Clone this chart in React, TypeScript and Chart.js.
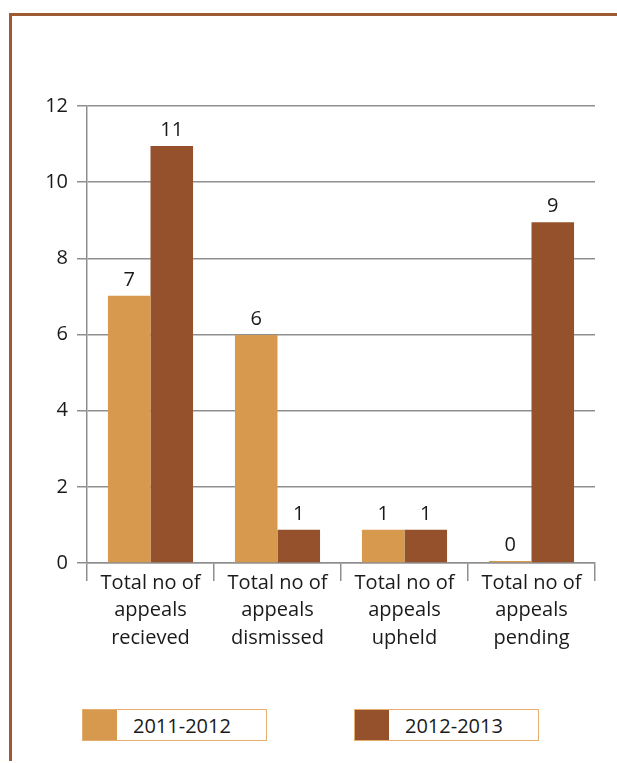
import React, { useEffect, useRef } from 'react';
import { Chart, registerables } from 'chart.js';

Chart.register(...registerables);

const categories: string[][] = [
  ['Total no of', 'appeals', 'recieved'],
  ['Total no of', 'appeals', 'dismissed'],
  ['Total no of', 'appeals', 'upheld'],
  ['Total no of', 'appeals', 'pending'],
];
const seriesNames = ['2011-2012', '2012-2013'];
const seriesColors = ['#D6994D', '#94512B'];
const values2011 = [7.02, 5.99, 0.87, 0.05];
const values2012 = [10.95, 0.87, 0.87, 8.95];
const labels2011 = ['7', '6', '1', '0'];
const labels2012 = ['11', '1', '1', '9'];
const yMin = 0;
const yMax = 12;
const yStep = 2;

const FONT = "'Open Sans', 'DejaVu Sans', sans-serif";

const valueLabelPlugin = {
  id: 'valueLabels',
  afterDatasetsDraw(chart: any) {
    const ctx = chart.ctx;
    const allLabels = [labels2011, labels2012];
    ctx.save();
    ctx.font = `20px ${FONT}`;
    ctx.fillStyle = '#1a1a1a';
    ctx.textAlign = 'center';
    ctx.textBaseline = 'alphabetic';
    chart.data.datasets.forEach((ds: any, di: number) => {
      const meta = chart.getDatasetMeta(di);
      meta.data.forEach((bar: any, i: number) => {
        ctx.fillText(allLabels[di][i], bar.x, bar.y - 10);
      });
    });
    ctx.restore();
  },
};

export default function App() {
  const canvasRef = useRef<HTMLCanvasElement | null>(null);

  useEffect(() => {
    if (!canvasRef.current) return;
    const chart = new Chart(canvasRef.current, {
      type: 'bar',
      data: {
        labels: categories,
        datasets: [
          {
            label: seriesNames[0],
            data: values2011,
            backgroundColor: seriesColors[0],
            borderWidth: 0,
            categoryPercentage: 0.67,
            barPercentage: 1,
          },
          {
            label: seriesNames[1],
            data: values2012,
            backgroundColor: seriesColors[1],
            borderWidth: 0,
            categoryPercentage: 0.67,
            barPercentage: 1,
          },
        ],
      },
      options: {
        responsive: false,
        animation: false,
        layout: { padding: { top: 106, right: 22, left: 0, bottom: 0 } },
        plugins: {
          legend: { display: false },
          tooltip: { enabled: false },
          title: { display: false },
        },
        scales: {
          x: {
            offset: true,
            grid: {
              display: true,
              offset: true,
              drawOnChartArea: false,
              drawTicks: true,
              tickLength: 18,
              color: '#8f8f8f',
              lineWidth: 1.5,
            },
            border: { display: true, color: '#8f8f8f', width: 1.5 },
            ticks: {
              color: '#1a1a1a',
              font: { family: FONT, size: 20, lineHeight: 1.38 },
              padding: -12,
              maxRotation: 0,
              autoSkip: false,
            },
            afterFit(scale: any) {
              scale.height = 680 - 563;
            },
          },
          y: {
            min: yMin,
            max: yMax,
            grid: {
              color: '#8f8f8f',
              lineWidth: 1.5,
              tickLength: 10,
              drawTicks: true,
            },
            border: { display: true, color: '#8f8f8f', width: 1.5 },
            ticks: {
              stepSize: yStep,
              color: '#1a1a1a',
              font: { family: FONT, size: 20 },
              padding: 9,
            },
            afterFit(scale: any) {
              scale.width = 87;
            },
          },
        },
      },
      plugins: [valueLabelPlugin],
    });
    return () => chart.destroy();
  }, []);

  const legendLefts = [82, 354];

  return (
    <div>
      <div
        style={{
          position: 'absolute',
          left: 9,
          top: 13,
          width: 608,
          height: 748,
          boxSizing: 'border-box',
          borderLeft: '3px solid #9E5A33',
          borderTop: '3px solid #9E5A33',
        }}
      />
      <canvas
        ref={canvasRef}
        width={617}
        height={680}
        style={{ position: 'absolute', left: 0, top: 0, width: 617, height: 680 }}
      />
      {seriesNames.map((name, i) => (
        <div
          key={name}
          style={{
            position: 'absolute',
            left: legendLefts[i],
            top: 709,
            width: 185,
            height: 32,
            boxSizing: 'border-box',
            border: '1.5px solid #E3AE70',
            display: 'flex',
            alignItems: 'center',
            background: '#fff',
          }}
        >
          <div style={{ width: 34, height: '100%', background: seriesColors[i] }} />
          <div
            style={{
              fontFamily: FONT,
              fontSize: 20,
              color: '#1a1a1a',
              paddingLeft: 16,
              lineHeight: '29px',
            }}
          >
            {name}
          </div>
        </div>
      ))}
    </div>
  );
}
